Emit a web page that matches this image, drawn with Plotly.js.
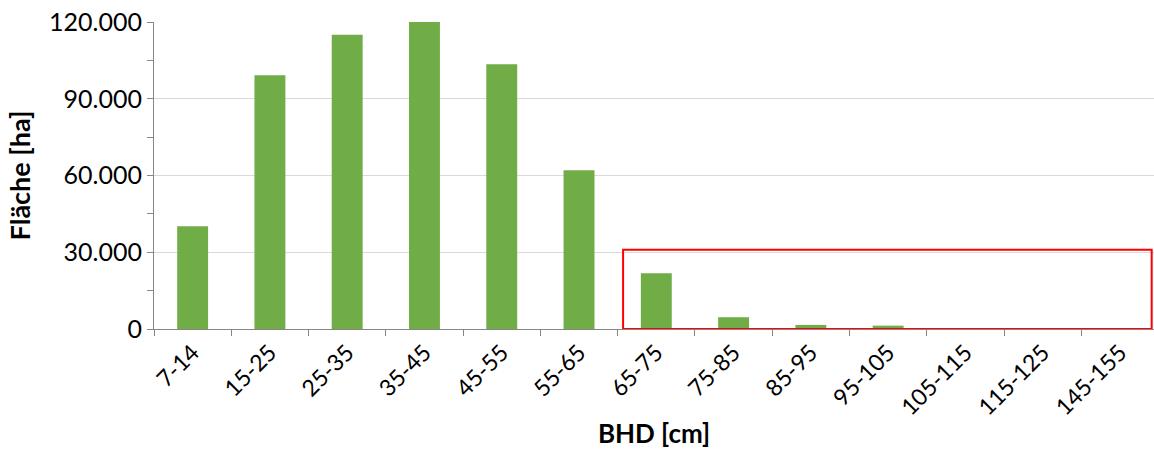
<!DOCTYPE html>
<html><head><meta charset="utf-8">
<script src="https://cdn.plot.ly/plotly-3.0.1.min.js"></script>
<style>html,body{margin:0;padding:0;overflow:hidden;background:#fff}</style>
</head><body>
<div id="chart" style="width:1154px;height:449px"></div>
<script>
const categories = ["7-14","15-25","25-35","35-45","45-55","55-65","65-75","75-85","85-95","95-105","105-115","115-125","145-155"];
const flaeche = [40200, 99200, 115000, 120000, 103500, 62100, 21800, 4600, 1600, 1300, 400, 100, 50];
const yTickVals = [0, 30000, 60000, 90000, 120000];
const yTickText = ["0", "30.000", "60.000", "90.000", "120.000"];
const highlightFrom = 5.57, highlightTo = 12.41, highlightTop = 31000;

const font = "Lato, 'Open Sans', sans-serif";
Plotly.newPlot("chart", [{
  type: "bar",
  x: categories,
  y: flaeche,
  width: 0.4,
  marker: {color: "#70AD47", line: {width: 0}},
  hoverinfo: "x+y"
}], {
  width: 1154, height: 449,
  margin: {l: 154, r: 0, t: 22, b: 120},
  paper_bgcolor: "#fff", plot_bgcolor: "#fff",
  showlegend: false,
  font: {family: font, color: "#404040"},
  xaxis: {
    type: "category",
    range: [-0.5, 12.44],
    showline: true, linecolor: "#868686", linewidth: 1,
    ticks: "outside", tickson: "boundaries", ticklen: 6, tickcolor: "#868686",
    tickangle: -45,
    tickfont: {family: font, size: 23, color: "#000"},
    showgrid: false,
    title: {text: "BHD [cm]", font: {family: font, size: 26, color: "#000", weight: "bold"}, standoff: 8}
  },
  yaxis: {
    range: [0, 120000],
    tickvals: yTickVals, ticktext: yTickText,
    showline: true, linecolor: "#868686", linewidth: 1,
    ticks: "outside", ticklen: 6, tickcolor: "#868686",
    minor: {dtick: 15000, tick0: 0, ticks: "outside", ticklen: 6, tickcolor: "#868686", showgrid: false},
    showgrid: true, gridcolor: "#d9d9d9", gridwidth: 1,
    zeroline: false,
    tickfont: {family: font, size: 25, color: "#000"},
    title: {text: "Fläche [ha]", font: {family: font, size: 27, color: "#000", weight: "bold"}, standoff: 10}
  },
  shapes: [{
    type: "rect", xref: "x", yref: "y",
    x0: highlightFrom, x1: highlightTo, y0: 0, y1: highlightTop,
    line: {color: "#ff0000", width: 2}, fillcolor: "rgba(0,0,0,0)"
  }]
}, {displayModeBar: false, staticPlot: true});
</script>
</body></html>
